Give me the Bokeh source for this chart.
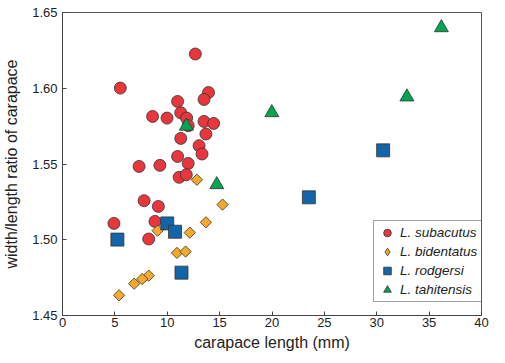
import numpy as np
from bokeh.plotting import figure
from bokeh.models import Range1d, Legend, LegendItem, FixedTicker, PrintfTickFormatter
from bokeh.embed import file_html
from bokeh.resources import INLINE

# L. subacutus
sub_x = [12.68, 5.52, 13.94, 13.51, 10.99, 11.29, 8.60, 9.98, 11.85, 12.00, 13.51, 14.43, 13.69, 11.29,
         13.04, 13.32, 10.99, 12.00, 7.31, 9.30, 11.14, 11.82, 7.79, 9.15, 4.91, 8.83, 8.23]
sub_y = [1.6226, 1.6001, 1.5972, 1.5926, 1.5913, 1.5838, 1.5814, 1.5803, 1.5803, 1.5753, 1.5781, 1.5768,
         1.5698, 1.5669, 1.5621, 1.5566, 1.5550, 1.5504, 1.5484, 1.5491, 1.5412, 1.5429, 1.5258, 1.5220,
         1.5108, 1.5121, 1.5005]
# L. bidentatus
bid_x = [12.83, 15.28, 13.69, 9.08, 12.15, 10.93, 11.75, 8.23, 7.61, 6.84, 5.40]
bid_y = [1.5396, 1.5232, 1.5115, 1.5060, 1.5047, 1.4913, 1.4922, 1.4763, 1.4741, 1.4710, 1.4633]
# L. rodgersi
rod_x = [5.24, 10.00, 10.74, 11.36, 23.52, 30.61]
rod_y = [1.5001, 1.5108, 1.5053, 1.4783, 1.5280, 1.5590]
# L. tahitensis
tah_x = [11.82, 14.73, 19.98, 32.88, 36.17]
tah_y = [1.5750, 1.5364, 1.5839, 1.5943, 1.6400]

x_ticks = [0, 5, 10, 15, 20, 25, 30, 35, 40]
y_ticks = [1.45, 1.50, 1.55, 1.60, 1.65]

FONT = "Liberation Sans"
EDGE = "#333333"

p = figure(width=489, height=355, output_backend="svg", toolbar_location=None,
           x_range=Range1d(0, 40), y_range=Range1d(1.45, 1.65),
           min_border_left=56, min_border_right=8, min_border_top=12, min_border_bottom=40)

p.xgrid.grid_line_color = None
p.ygrid.grid_line_color = None
p.outline_line_color = "#555555"
p.outline_line_width = 1
p.background_fill_color = "white"
p.border_fill_color = "white"

for ax in (p.xaxis[0], p.yaxis[0]):
    ax.axis_line_color = "#444444"
    ax.major_tick_line_color = "#444444"
    ax.major_tick_in = 4
    ax.major_tick_out = 0
    ax.minor_tick_line_color = None
    ax.minor_tick_in = 0
    ax.minor_tick_out = 0
    ax.major_label_text_font = FONT
    ax.major_label_text_font_size = "13px"
    ax.major_label_text_color = "#222222"
    ax.axis_label_text_font = FONT
    ax.axis_label_text_font_size = "16px"
    ax.axis_label_text_font_style = "normal"
    ax.axis_label_text_color = "#222222"

p.xaxis.ticker = FixedTicker(ticks=x_ticks)
p.yaxis.ticker = FixedTicker(ticks=y_ticks)
p.yaxis.formatter = PrintfTickFormatter(format="%.2f")
p.xaxis.axis_label = "carapace length (mm)"
p.yaxis.axis_label = "width/length ratio of carapace"
p.xaxis.major_label_standoff = 2
p.yaxis.major_label_standoff = 5
p.xaxis.axis_label_standoff = 4
p.yaxis.axis_label_standoff = 9

r_sub = p.scatter(sub_x, sub_y, marker="circle", size=12, fill_color="#E8363C",
                  line_color=EDGE, line_width=0.8)
r_bid = p.scatter(bid_x, bid_y, marker="square", angle=np.pi / 4, size=8, fill_color="#F7A92A",
                  line_color=EDGE, line_width=0.8)
r_rod = p.scatter(rod_x, rod_y, marker="square", size=13, fill_color="#1265A9",
                  line_color=EDGE, line_width=0.8)
r_tah = p.scatter(tah_x, tah_y, marker="triangle", size=14, fill_color="#00A651",
                  line_color=EDGE, line_width=0.8)
# legend-only glyph for the diamond symbol (no visible data)
r_bid_leg = p.scatter(x=[np.nan], y=[np.nan], marker="diamond", size=10, fill_color="#F7A92A",
                      line_color=EDGE, line_width=0.8)

legend = Legend(items=[
    LegendItem(label="L. subacutus", renderers=[r_sub]),
    LegendItem(label="L. bidentatus", renderers=[r_bid_leg]),
    LegendItem(label="L. rodgersi", renderers=[r_rod]),
    LegendItem(label="L. tahitensis", renderers=[r_tah]),
], location=(311, 13))
legend.padding = 2
legend.spacing = 0
legend.label_height = 19
legend.glyph_height = 19
legend.glyph_width = 22
legend.label_standoff = 2
legend.label_width = 84
legend.margin = 0
legend.label_text_font = FONT
legend.label_text_font_size = "13.5px"
legend.label_text_font_style = "italic"
legend.label_text_color = "#222222"
legend.border_line_color = "#444444"
legend.border_line_width = 1
legend.background_fill_color = "white"
legend.background_fill_alpha = 1.0
p.add_layout(legend)

open("out.html", "w").write(file_html(p, INLINE))
